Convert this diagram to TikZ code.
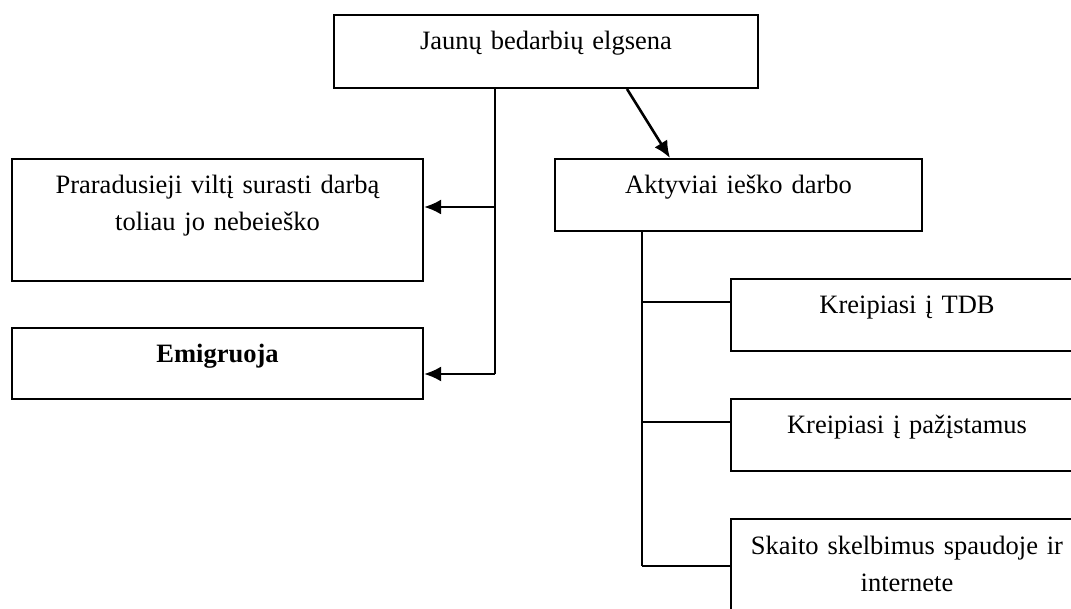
\documentclass[tikz,border=0pt]{standalone}
\usepackage{fontspec}
\setmainfont{Liberation Serif}
\usetikzlibrary{arrows.meta}

\begin{document}
\begin{tikzpicture}[x=1pt,y=-1pt,
  box/.style={draw,line width=2pt,anchor=north west,inner xsep=0pt,inner ysep=0pt,
    align=center,text height=35pt,font=\fontsize{26.5}{37}\selectfont},
  line/.style={line width=2.2pt},
  arr/.style={line width=2.6pt,-{Latex[length=17pt,width=15pt]}}]
  \clip (0,0) rectangle (1071,609);
  \node[box,text width=424pt,text depth=38pt] at (333,14) (top) {Jaunų bedarbių elgsena};
  \node[box,text width=411pt,text depth=87pt] at (11,158) (lost) {Praradusieji viltį surasti darbą\\toliau jo nebeieško};
  \node[box,text width=411pt,text depth=36pt] at (11,327) (emi) {\textbf{Emigruoja}};
  \node[box,text width=367pt,text depth=37pt] at (554,158) (act) {Aktyviai ieško darbo};
  \node[box,text width=352pt,text depth=37pt] at (730,278) (tdb) {Kreipiasi į TDB};
  \node[box,text width=352pt,text depth=37pt] at (730,398) (paz) {Kreipiasi į pažįstamus};
  \node[box,text width=352pt,text depth=87pt] at (730,518) (skel) {Skaito skelbimus spaudoje ir\\internete};
  \coordinate (t1) at (495,207);
  \coordinate (t2) at (495,374);
  \coordinate (b1) at (642,302);
  \coordinate (b2) at (642,422);
  \coordinate (b3) at (642,566);
  \draw[line] (top.south -| t1) -- (t2);
  \draw[arr] (t1) -- (lost.east |- t1);
  \draw[arr] (t2) -- (emi.east |- t2);
  \draw[arr] (top.south -| 627,0) -- (act.north -| 670,0);
  \draw[line] (act.south -| b1) -- (b3);
  \draw[line] (b1) -- (tdb.west |- b1);
  \draw[line] (b2) -- (paz.west |- b2);
  \draw[line] (b3) -- (skel.west |- b3);
\end{tikzpicture}
\end{document}
